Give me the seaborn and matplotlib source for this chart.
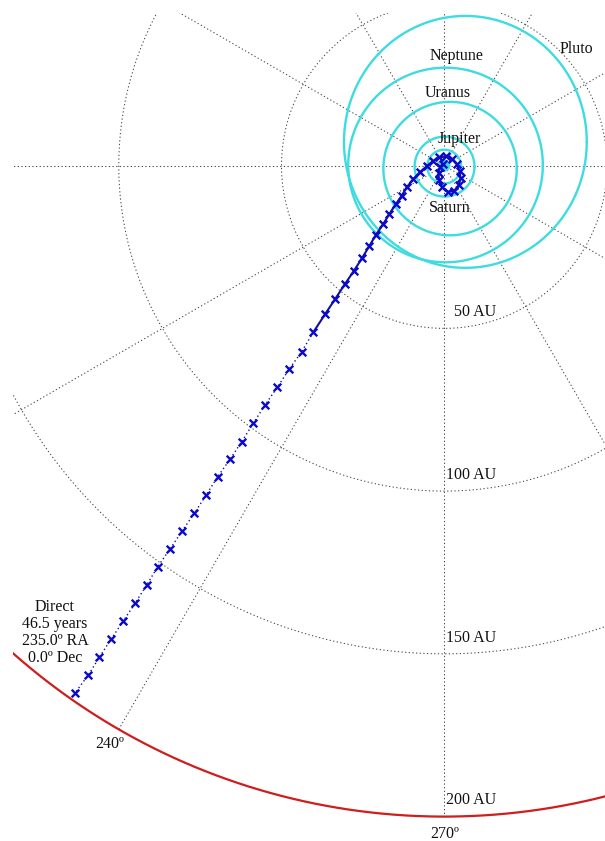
import numpy as np
import pandas as pd
import matplotlib
matplotlib.use("Agg")
import matplotlib.pyplot as plt
import seaborn as sns

# ---- data (AU, projected onto the equatorial plane, x toward RA 0°) ----
# trajectory points, from the Sun outward (one marker per time step)
traj_x_au = [-0.37, -1.29, -1.75, -1.60, -0.68, 1.01, 3.01, 4.55, 5.01, 4.70,
             3.78, 2.40, 0.55, -1.60, -3.44, -5.28, -7.43, -9.49, -11.52, -13.06,
             -14.90, -16.87, -18.71, -20.95, -23.01, -25.16, -27.71, -30.48, -33.55, -36.62,
             -40.22, -43.78, -47.59, -51.27, -55.05, -58.65, -62.21, -65.81, -69.59, -73.18,
             -76.77, -80.46, -84.24, -88.02, -91.40, -94.99, -98.59, -102.37, -105.96, -109.34,
             -113.43]
traj_y_au = [0.52, -0.40, -2.24, -4.39, -6.54, -8.08, -7.77, -5.92, -3.78, -1.63,
             0.52, 2.06, 2.83, 2.52, 1.44, -0.09, -1.94, -4.09, -6.64, -9.22,
             -11.86, -14.84, -17.91, -21.20, -24.67, -28.26, -32.26, -36.34, -41.04, -45.65,
             -51.18, -57.14, -62.46, -68.08, -73.52, -79.14, -84.79, -90.20, -95.55, -101.26,
             -106.79, -112.14, -117.76, -123.20, -128.82, -134.44, -139.88, -145.50, -151.03, -156.47,
             -162.00]
# index of the point where powered flight ends and the coast begins
coast_start = 30

# planetary orbits: name, centre offset (AU), semi-axes (AU)
planets = ["Mercury", "Venus", "Earth", "Mars", "Jupiter", "Saturn", "Uranus", "Neptune", "Pluto"]
orbit_cx = [0.0, 0.0, 0.0, 0.0, 0.0, 0.1, 1.8, 0.4, 6.5]
orbit_cy = [0.0, 0.0, 0.0, 0.0, -0.3, -0.3, -0.9, 0.2, 7.3]
orbit_ax = [0.39, 0.72, 1.0, 1.52, 5.2, 9.2, 20.5, 29.9, 37.3]
orbit_by = [0.39, 0.72, 1.0, 1.52, 5.2, 9.2, 20.5, 29.9, 38.7]

# labelled planets and label anchor points (AU)
label_names = ["Pluto", "Neptune", "Uranus", "Jupiter", "Saturn"]
label_x = [40.5, 3.8, 1.2, 4.6, 1.8]
label_y = [35.9, 33.7, 22.3, 8.1, -13.0]

# polar grid
ring_radii = [50, 100, 150, 200]
ring_labels = ["50 AU", "100 AU", "150 AU", "200 AU"]
spoke_angles = [0, 30, 60, 90, 120, 150]
angle_ticks = [0, 30, 60, 90, 120, 150, 180, 210, 240, 270, 300, 330]
r_max = 200

mission_text = "Direct\n46.5 years\n235.0º RA\n0.0º Dec"

# ---- styling ----
CYAN = "#3edcdf"
BLUE = "#0a0ac8"
NAVY = "#10109c"
RED = "#d01e1e"
GRID = "#454545"
SERIF = ["Liberation Serif", "DejaVu Serif"]

sns.set_style("white")
plt.rcParams["font.family"] = SERIF

W, H = 605, 841
XLIM = (-132.5, 49.4)
YLIM = (-207.5, 46.9)
fig = plt.figure(figsize=(W / 100, H / 100), dpi=100)
ax = fig.add_axes([13 / W, 0, (W - 13) / W, (H - 13) / H])
ax.set_xlim(*XLIM)
ax.set_ylim(*YLIM)
ax.axis("off")

# dotted polar grid: spokes across the full diameter and range rings
grid_kw = dict(color=GRID, linewidth=0.75, linestyle=(0, (1.2, 2.3)), zorder=1)
for a in spoke_angles:
    t = np.deg2rad(a)
    ax.plot([-r_max * np.cos(t), r_max * np.cos(t)],
            [-r_max * np.sin(t), r_max * np.sin(t)], **grid_kw)
phi = np.linspace(0, 2 * np.pi, 721)
for r in ring_radii:
    ax.plot(r * np.cos(phi), r * np.sin(phi), **grid_kw)

# outer boundary at the target distance
boundary = pd.DataFrame({"x": r_max * np.cos(phi), "y": r_max * np.sin(phi)})
sns.lineplot(data=boundary, x="x", y="y", sort=False, estimator=None,
             color=RED, linewidth=1.6, ax=ax, zorder=2)

# planetary orbits
rows = []
for name, cx, cy, a, b in zip(planets, orbit_cx, orbit_cy, orbit_ax, orbit_by):
    rows.append(pd.DataFrame({"x": cx + a * np.cos(phi), "y": cy + b * np.sin(phi),
                              "body": name}))
orbits = pd.concat(rows, ignore_index=True)
sns.lineplot(data=orbits, x="x", y="y", units="body", sort=False, estimator=None,
             color=CYAN, linewidth=1.7, ax=ax, zorder=2)

# trajectory: powered arc (solid) then coast (dotted)
traj = pd.DataFrame({"x": traj_x_au, "y": traj_y_au})
powered = traj.iloc[:coast_start + 1]
coast = traj.iloc[coast_start:]
sns.lineplot(data=powered, x="x", y="y", sort=False, estimator=None,
             color=NAVY, linewidth=1.5, ax=ax, zorder=3)
sns.lineplot(data=coast, x="x", y="y", sort=False, estimator=None,
             color=NAVY, linewidth=1.0, linestyle=(0, (1, 2)), ax=ax, zorder=3)
sns.scatterplot(data=traj, x="x", y="y", marker="x", s=30, linewidth=1.7,
                color=BLUE, ax=ax, zorder=4)

# planet names
for name, x, y in zip(label_names, label_x, label_y):
    ax.text(x, y, name, ha="center", va="center", fontsize=11.5, color="#111111", zorder=5)

# range ring labels just inside each ring, right-aligned next to the 270° spoke
for r, lab in zip(ring_radii, ring_labels):
    ax.text(16.1, -(r - 5), lab, ha="right", va="center", fontsize=11.5,
            color="#111111", zorder=5)

# angle labels just outside the boundary (only those that fall inside the view)
r_lab = 205.3
for a in angle_ticks:
    t = np.deg2rad(a)
    lx, ly = r_lab * np.cos(t), r_lab * np.sin(t)
    if XLIM[0] + 8 < lx < XLIM[1] - 8 and YLIM[0] + 2 < ly < YLIM[1] - 4:
        ax.text(lx, ly, f"{a}º", ha="center", va="center",
                fontsize=11.5, color="#111111", zorder=5)

ax.text(-119.6, -143.5, mission_text, ha="center", va="center", fontsize=11.5,
        linespacing=1.1, color="#111111", zorder=5)

fig.savefig("out.png", dpi=100, facecolor="white")
